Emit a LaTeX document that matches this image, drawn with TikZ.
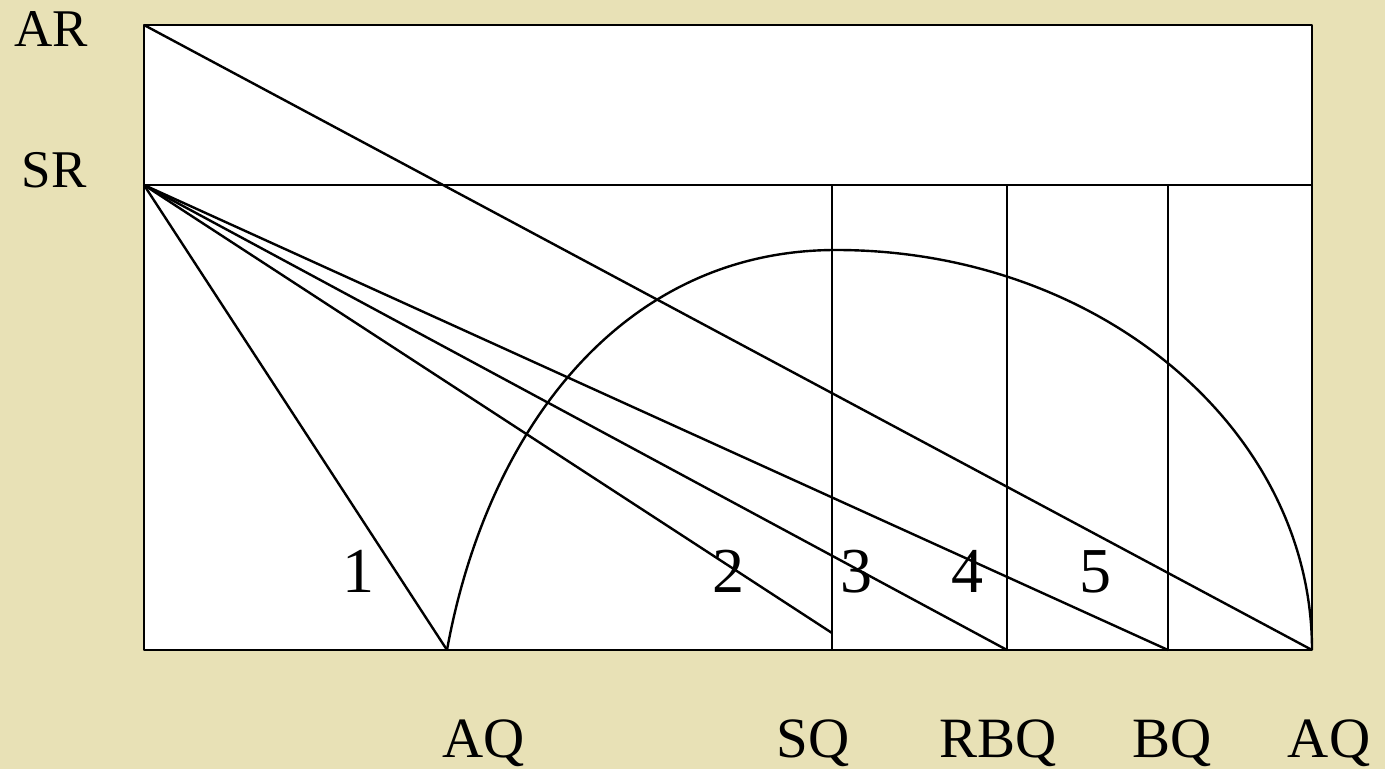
\documentclass[tikz,border=0pt]{standalone}
\usepackage{fontspec}
\setmainfont{Liberation Serif}
\usetikzlibrary{positioning}
\definecolor{bgTan}{RGB}{232,225,182}

\begin{document}
\begin{tikzpicture}[
  x=0.5pt,y=-0.5pt,
  line/.style={draw=black,line width=1.2pt,line join=round},
  axlab/.style={font=\fontsize{26.5}{30}\selectfont,anchor=base,inner sep=0pt},
  qlab/.style={font=\fontsize{28.5}{32}\selectfont,anchor=base,inner sep=0pt},
  num/.style={font=\fontsize{32}{36}\selectfont,anchor=base,inner sep=0pt}
]
\fill[bgTan] (0,0) rectangle (1385,769);
\useasboundingbox (0,0) rectangle (1385,769);
\def\xL{144}
\def\xR{1312}
\def\yAR{25}
\def\ySR{185}
\def\yB{650}

% --- frame points
\coordinate (AR)  at (\xL,\yAR);
\coordinate (SR)  at (\xL,\ySR);
\coordinate (ARr) at (\xR,\yAR);
\coordinate (SRr) at (\xR,\ySR);
\coordinate (pAQ)  at (447,\yB);
\coordinate (pSQ)  at (832,\yB);
\coordinate (pSQm) at (832,633);
\coordinate (pRBQ) at (1007,\yB);
\coordinate (pBQ)  at (1168,\yB);
\coordinate (pAQr) at (\xR,\yB);
\coordinate (top)  at (836,250);

% --- box
\filldraw[line,fill=white] (AR) rectangle (pAQr);
\draw[line] (SR) -- (SRr);
\foreach \p in {pSQ,pRBQ,pBQ}
  \draw[line] (\p) -- (\p |- SR);

% --- rays
\draw[line] (AR) -- (pAQr);
\foreach \p in {pAQ,pSQm,pRBQ,pBQ}
  \draw[line] (SR) -- (\p);

% --- curve
\draw[line] (pAQ) .. controls (487,430) and (622,250) .. (top)
                  .. controls (1099,250) and (1312,429) .. (pAQr);

% --- labels
\node[axlab] (lAR) at (51,47)  {AR};
\node[axlab] (lSR) at (54,188) {SR};
\node[num] (n1) at (358,592)  {1};
\node[num] (n2) at (728,592)  {2};
\node[num] (n3) at (856,592)  {3};
\node[num] (n4) at (967,592)  {4};
\node[num] (n5) at (1095,592) {5};
\node[qlab] (qAQ)  at (484,757)  {AQ};
\node[qlab] (qSQ)  at (813,757)  {SQ};
\node[qlab] (qRBQ) at (998,757)  {RBQ};
\node[qlab] (qBQ)  at (1172,757) {BQ};
\node[qlab] (qAQr) at (1329,757) {AQ};
\end{tikzpicture}
\end{document}
